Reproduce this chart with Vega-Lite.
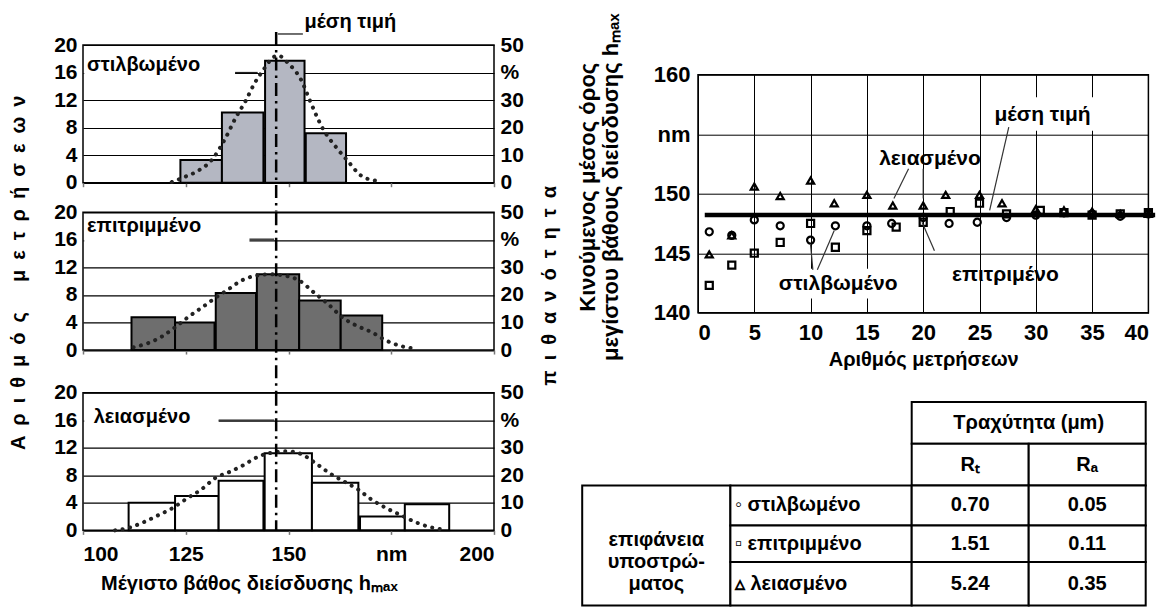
{
"$schema": "https://vega.github.io/schema/vega-lite/v6.json",
"padding": {"left": 0, "top": 0, "right": 0, "bottom": 0},
"background": "white",
"config": {
  "view": {"stroke": null},
  "font": "Liberation Sans",
  "axis": {"labelFont": "Liberation Sans", "titleFont": "Liberation Sans", "labelFontWeight": "bold", "titleFontWeight": "bold", "labelColor": "black", "titleColor": "black"},
  "text": {"font": "Liberation Sans", "fontWeight": "bold", "fontSize": 20, "color": "black"}
},
"spacing": 5,
"hconcat": [
 {
  "bounds": "flush",
  "spacing": 9.667,
  "vconcat": [
   {
    "width": 411, "height": 137.7,
    "view": {"stroke": "black", "strokeWidth": 1.5},
    "resolve": {"axis": {"y": "independent"}},
    "layer": [
     {
      "data": {"values": [{"x":123.7,"x2":133.8,"y":3.3},{"x":133.8,"x2":143.9,"y":10.2},{"x":144.3,"x2":153.9,"y":17.7},{"x":154.2,"x2":164.0,"y":7.2}]},
      "mark": {"type": "rect", "fill": "#b4b7c2", "stroke": "black", "strokeWidth": 2},
      "encoding": {
        "x": {"field": "x", "type": "quantitative", "scale": {"domain": [100, 200], "nice": false, "zero": false},
              "axis": {"values": [100,125,150,175,200], "labels": false, "title": null, "domain": false, "grid": false, "ticks": true, "tickSize": 4, "tickColor": "#777", "tickWidth": 1.5}},
        "x2": {"field": "x2"},
        "y": {"field": "y", "type": "quantitative", "scale": {"domain": [0, 20], "nice": false, "zero": false},
              "axis": {"orient": "left", "values": [0,4,8,12,16,20], "title": null, "grid": true, "gridColor": "black", "gridWidth": 1.2, "gridOpacity": 1, "domain": false, "ticks": false, "labelFontSize": 21, "labelPadding": 6}},
        "y2": {"datum": 0}
      }
     },
     {
      "data": {"values": [{"x":121.6,"y":0.1},{"x":125,"y":0.9},{"x":127.6,"y":1.6},{"x":131.6,"y":3.5},{"x":134.6,"y":6.4},{"x":137.3,"y":9.6},{"x":139.5,"y":11.8},{"x":141.7,"y":14.4},{"x":143.9,"y":16.4},{"x":145.6,"y":17.8},{"x":147.4,"y":18.5},{"x":150.0,"y":17.3},{"x":153.1,"y":14.9},{"x":155.3,"y":11.8},{"x":158.3,"y":7.9},{"x":161.8,"y":5.0},{"x":164.5,"y":3.1},{"x":167.5,"y":1.1},{"x":171.1,"y":0.3}]},
      "mark": {"type": "line", "interpolate": "monotone", "color": "#222", "strokeWidth": 4, "strokeDash": [0.1, 7.5], "strokeCap": "round"},
      "encoding": {
        "x": {"field": "x", "type": "quantitative", "scale": {"domain": [100, 200], "nice": false, "zero": false}},
        "y": {"field": "y", "type": "quantitative", "scale": {"domain": [0, 20], "nice": false, "zero": false}, "axis": null}
      }
     },
     {
      "data": {"values": [{"x":147,"y":21.9,"y2":-4.2}]},
      "mark": {"type": "rule", "color": "black", "strokeWidth": 2.5, "strokeDash": [13, 5, 2.5, 5]},
      "encoding": {
        "x": {"field": "x", "type": "quantitative", "scale": {"domain": [100, 200], "nice": false, "zero": false}},
        "y": {"field": "y", "type": "quantitative", "scale": {"domain": [0, 20], "nice": false, "zero": false}, "axis": null},
        "y2": {"field": "y2"}
      }
     },
     {
      "data": {"values": [{"x":100.3,"x2":137,"y":15.6,"y2":19.4}]},
      "mark": {"type": "rect", "fill": "white"},
      "encoding": {
        "x": {"field": "x", "type": "quantitative", "scale": {"domain": [100, 200], "nice": false, "zero": false}},
        "x2": {"field": "x2"},
        "y": {"field": "y", "type": "quantitative", "scale": {"domain": [0, 20], "nice": false, "zero": false}, "axis": null},
        "y2": {"field": "y2"}
      }
     },
     {
      "data": {"values": [{"x":137,"y":16,"x2":142.5,"y2":16,"o":1},{"x":147.4,"y":21.6,"x2":153.5,"y2":21.6,"o":1},{"x":80.06,"y":26.29,"x2":217,"y2":26.29,"o":0}]},
      "mark": {"type": "rule", "color": "#222", "strokeWidth": 1.3},
      "encoding": {
        "x": {"field": "x", "type": "quantitative", "scale": {"domain": [100, 200], "nice": false, "zero": false}},
        "x2": {"field": "x2"},
        "y": {"field": "y", "type": "quantitative", "scale": {"domain": [0, 20], "nice": false, "zero": false}, "axis": null},
        "y2": {"field": "y2"},
        "opacity": {"field": "o", "type": "quantitative", "scale": null}
      }
     },
     {
      "data": {"values": [{"x":101,"y":17.1,"t":"στιλβωμένο"},{"x":153.9,"y":23.4,"t":"μέση τιμή"}]},
      "mark": {"type": "text", "align": "left", "baseline": "middle", "fontSize": 20},
      "encoding": {
        "x": {"field": "x", "type": "quantitative", "scale": {"domain": [100, 200], "nice": false, "zero": false}},
        "y": {"field": "y", "type": "quantitative", "scale": {"domain": [0, 20], "nice": false, "zero": false}, "axis": null},
        "text": {"field": "t"}
      }
     },
     {
      "data": {"values": [{"y":0}]},
      "mark": {"type": "rule", "opacity": 0},
      "encoding": {
        "y": {"field": "y", "type": "quantitative", "scale": {"domain": [0, 20], "nice": false, "zero": false},
              "axis": {"orient": "right", "values": [0,4,8,12,16,20], "labelExpr": "datum.value == 16 ? '%' : format(datum.value * 2.5, 'd')", "title": null, "grid": false, "domain": false, "ticks": false, "labelFontSize": 21, "labelPadding": 6}}
      }
     }
    ]
   },
   {"data": {"values": [{}]}, "mark": {"type": "point", "opacity": 0}, "width": 1, "height": 9.667},
   {
    "width": 411, "height": 137.7,
    "view": {"stroke": "black", "strokeWidth": 1.5},
    "resolve": {"axis": {"y": "independent"}},
    "layer": [
     {
      "data": {"values": [{"x":111.8,"x2":122.4,"y":4.75},{"x":122.4,"x2":132.0,"y":4.0},{"x":132.3,"x2":142.1,"y":8.3},{"x":142.3,"x2":152.6,"y":11.0},{"x":152.6,"x2":162.7,"y":7.2},{"x":162.7,"x2":172.8,"y":5.0}]},
      "mark": {"type": "rect", "fill": "#6e6e6e", "stroke": "black", "strokeWidth": 2},
      "encoding": {
        "x": {"field": "x", "type": "quantitative", "scale": {"domain": [100, 200], "nice": false, "zero": false},
              "axis": {"values": [100,125,150,175,200], "labels": false, "title": null, "domain": false, "grid": false, "ticks": true, "tickSize": 4, "tickColor": "#777", "tickWidth": 1.5}},
        "x2": {"field": "x2"},
        "y": {"field": "y", "type": "quantitative", "scale": {"domain": [0, 20], "nice": false, "zero": false},
              "axis": {"orient": "left", "values": [0,4,8,12,16,20], "title": "Α\u2002ρ\u2002ι\u2002θ\u2002μ\u2002ό\u2002ς\u2002\u2002\u2002μ\u2002ε\u2002τ\u2002ρ\u2002ή\u2002σ\u2002ε\u2002ω\u2002ν", "titleFontSize": 20, "titleX": -65, "titleY": 60, "titleBaseline": "middle", "titleAlign": "center", "grid": true, "gridColor": "black", "gridWidth": 1.2, "gridOpacity": 1, "domain": false, "ticks": false, "labelFontSize": 21, "labelPadding": 6}},
        "y2": {"datum": 0}
      }
     },
     {
      "data": {"values": [{"x":112.3,"y":0.4},{"x":115.8,"y":1.0},{"x":119.3,"y":2.0},{"x":122.4,"y":3.3},{"x":125.4,"y":4.7},{"x":129.0,"y":6.2},{"x":132.5,"y":7.7},{"x":135.1,"y":8.7},{"x":138.6,"y":10.1},{"x":142.1,"y":10.8},{"x":145.6,"y":11.0},{"x":149.1,"y":10.8},{"x":152.6,"y":10.1},{"x":156.1,"y":8.4},{"x":159.6,"y":6.7},{"x":163.2,"y":4.7},{"x":166.7,"y":3.5},{"x":170.2,"y":2.6},{"x":173.7,"y":1.4},{"x":177.2,"y":0.6},{"x":180.7,"y":0.2}]},
      "mark": {"type": "line", "interpolate": "monotone", "color": "#222", "strokeWidth": 4, "strokeDash": [0.1, 7.5], "strokeCap": "round"},
      "encoding": {
        "x": {"field": "x", "type": "quantitative", "scale": {"domain": [100, 200], "nice": false, "zero": false}},
        "y": {"field": "y", "type": "quantitative", "scale": {"domain": [0, 20], "nice": false, "zero": false}, "axis": null}
      }
     },
     {
      "data": {"values": [{"x":147,"y":20,"y2":-6.15}]},
      "mark": {"type": "rule", "color": "black", "strokeWidth": 2.5, "strokeDash": [13, 5, 2.5, 5]},
      "encoding": {
        "x": {"field": "x", "type": "quantitative", "scale": {"domain": [100, 200], "nice": false, "zero": false}},
        "y": {"field": "y", "type": "quantitative", "scale": {"domain": [0, 20], "nice": false, "zero": false}, "axis": null},
        "y2": {"field": "y2"}
      }
     },
     {
      "data": {"values": [{"x":100.3,"x2":140.5,"y":15.6,"y2":19.6}]},
      "mark": {"type": "rect", "fill": "white"},
      "encoding": {
        "x": {"field": "x", "type": "quantitative", "scale": {"domain": [100, 200], "nice": false, "zero": false}},
        "x2": {"field": "x2"},
        "y": {"field": "y", "type": "quantitative", "scale": {"domain": [0, 20], "nice": false, "zero": false}, "axis": null},
        "y2": {"field": "y2"}
      }
     },
     {
      "data": {"values": [{"x":140.5,"y":16.1,"x2":146.5,"y2":16.1}]},
      "mark": {"type": "rule", "color": "#222", "strokeWidth": 1.3},
      "encoding": {
        "x": {"field": "x", "type": "quantitative", "scale": {"domain": [100, 200], "nice": false, "zero": false}},
        "x2": {"field": "x2"},
        "y": {"field": "y", "type": "quantitative", "scale": {"domain": [0, 20], "nice": false, "zero": false}, "axis": null},
        "y2": {"field": "y2"}
      }
     },
     {
      "data": {"values": [{"x":101,"y":18.0,"t":"επιτριμμένο"}]},
      "mark": {"type": "text", "align": "left", "baseline": "middle", "fontSize": 20},
      "encoding": {
        "x": {"field": "x", "type": "quantitative", "scale": {"domain": [100, 200], "nice": false, "zero": false}},
        "y": {"field": "y", "type": "quantitative", "scale": {"domain": [0, 20], "nice": false, "zero": false}, "axis": null},
        "text": {"field": "t"}
      }
     },
     {
      "data": {"values": [{"y":0}]},
      "mark": {"type": "rule", "opacity": 0},
      "encoding": {
        "y": {"field": "y", "type": "quantitative", "scale": {"domain": [0, 20], "nice": false, "zero": false},
              "axis": {"orient": "right", "values": [0,4,8,12,16,20], "labelExpr": "datum.value == 16 ? '%' : format(datum.value * 2.5, 'd')", "title": "π\u2002ι\u2002θ\u2002α\u2002ν\u2002ό\u2002τ\u2002η\u2002τ\u2002α", "titleFontSize": 20, "titleAngle": 270, "titleX": 55, "titleY": 73, "titleBaseline": "middle", "titleAlign": "center", "grid": false, "domain": false, "ticks": false, "labelFontSize": 21, "labelPadding": 6}}
      }
     }
    ]
   },
   {"data": {"values": [{}]}, "mark": {"type": "point", "opacity": 0}, "width": 1, "height": 23},
   {
    "width": 411, "height": 137.7,
    "view": {"stroke": "black", "strokeWidth": 1.5},
    "resolve": {"axis": {"y": "independent"}},
    "layer": [
     {
      "data": {"values": [{"x":111.1,"x2":122.4,"y":4.0},{"x":122.4,"x2":133.0,"y":5.0},{"x":133.0,"x2":143.9,"y":7.2},{"x":144.2,"x2":155.7,"y":11.2},{"x":155.7,"x2":167.0,"y":6.9},{"x":167.4,"x2":178.3,"y":2.0},{"x":178.3,"x2":189.1,"y":3.8}]},
      "mark": {"type": "rect", "fill": "white", "stroke": "black", "strokeWidth": 2},
      "encoding": {
        "x": {"field": "x", "type": "quantitative", "scale": {"domain": [100, 200], "nice": false, "zero": false},
              "axis": {"values": [100,125,150,175,200], "labelExpr": "datum.value == 175 ? 'nm' : datum.label", "labelFlush": true, "labelFontSize": 21, "labelPadding": 9, "title": "Μέγιστο βάθος διείσδυσης hₘₐₓ", "titleFontSize": 20, "titleX": 166, "titleY": 59, "titleBaseline": "alphabetic", "titleAlign": "center", "domain": false, "grid": false, "ticks": true, "tickSize": 4, "tickColor": "#777", "tickWidth": 1.5}},
        "x2": {"field": "x2"},
        "y": {"field": "y", "type": "quantitative", "scale": {"domain": [0, 20], "nice": false, "zero": false},
              "axis": {"orient": "left", "values": [0,4,8,12,16,20], "title": null, "grid": true, "gridColor": "black", "gridWidth": 1.2, "gridOpacity": 1, "domain": false, "ticks": false, "labelFontSize": 21, "labelPadding": 6}},
        "y2": {"datum": 0}
      }
     },
     {
      "data": {"values": [{"x":107.8,"y":0.0},{"x":111.3,"y":0.4},{"x":114.8,"y":1.2},{"x":118.3,"y":2.2},{"x":121.7,"y":3.2},{"x":125.2,"y":4.6},{"x":128.7,"y":5.9},{"x":132.2,"y":7.6},{"x":135.7,"y":8.5},{"x":139.1,"y":9.5},{"x":142.6,"y":10.7},{"x":146.1,"y":11.3},{"x":149.6,"y":11.5},{"x":153.0,"y":11.1},{"x":156.5,"y":9.8},{"x":160.0,"y":8.3},{"x":163.5,"y":7.1},{"x":167.0,"y":5.9},{"x":170.4,"y":4.4},{"x":173.9,"y":3.2},{"x":177.4,"y":2.2},{"x":180.9,"y":1.2},{"x":184.3,"y":0.5},{"x":187.8,"y":0.1}]},
      "mark": {"type": "line", "interpolate": "monotone", "color": "#222", "strokeWidth": 4, "strokeDash": [0.1, 7.5], "strokeCap": "round"},
      "encoding": {
        "x": {"field": "x", "type": "quantitative", "scale": {"domain": [100, 200], "nice": false, "zero": false}},
        "y": {"field": "y", "type": "quantitative", "scale": {"domain": [0, 20], "nice": false, "zero": false}, "axis": null}
      }
     },
     {
      "data": {"values": [{"x":147,"y":20,"y2":0}]},
      "mark": {"type": "rule", "color": "black", "strokeWidth": 2.5, "strokeDash": [13, 5, 2.5, 5]},
      "encoding": {
        "x": {"field": "x", "type": "quantitative", "scale": {"domain": [100, 200], "nice": false, "zero": false}},
        "y": {"field": "y", "type": "quantitative", "scale": {"domain": [0, 20], "nice": false, "zero": false}, "axis": null},
        "y2": {"field": "y2"}
      }
     },
     {
      "data": {"values": [{"x":100.3,"x2":133,"y":15,"y2":18.2}]},
      "mark": {"type": "rect", "fill": "white"},
      "encoding": {
        "x": {"field": "x", "type": "quantitative", "scale": {"domain": [100, 200], "nice": false, "zero": false}},
        "x2": {"field": "x2"},
        "y": {"field": "y", "type": "quantitative", "scale": {"domain": [0, 20], "nice": false, "zero": false}, "axis": null},
        "y2": {"field": "y2"}
      }
     },
     {
      "data": {"values": [{"x":133,"y":16,"x2":146.5,"y2":16}]},
      "mark": {"type": "rule", "color": "#222", "strokeWidth": 1.3},
      "encoding": {
        "x": {"field": "x", "type": "quantitative", "scale": {"domain": [100, 200], "nice": false, "zero": false}},
        "x2": {"field": "x2"},
        "y": {"field": "y", "type": "quantitative", "scale": {"domain": [0, 20], "nice": false, "zero": false}, "axis": null},
        "y2": {"field": "y2"}
      }
     },
     {
      "data": {"values": [{"x":102.6,"y":16.5,"t":"λειασμένο"}]},
      "mark": {"type": "text", "align": "left", "baseline": "middle", "fontSize": 20},
      "encoding": {
        "x": {"field": "x", "type": "quantitative", "scale": {"domain": [100, 200], "nice": false, "zero": false}},
        "y": {"field": "y", "type": "quantitative", "scale": {"domain": [0, 20], "nice": false, "zero": false}, "axis": null},
        "text": {"field": "t"}
      }
     },
     {
      "data": {"values": [{"y":0}]},
      "mark": {"type": "rule", "opacity": 0},
      "encoding": {
        "y": {"field": "y", "type": "quantitative", "scale": {"domain": [0, 20], "nice": false, "zero": false},
              "axis": {"orient": "right", "values": [0,4,8,12,16,20], "labelExpr": "datum.value == 16 ? '%' : format(datum.value * 2.5, 'd')", "title": null, "grid": false, "domain": false, "ticks": false, "labelFontSize": 21, "labelPadding": 6}}
      }
     }
    ]
   }
  ]
 },
 {
  "bounds": "flush",
  "spacing": 14.7,
  "vconcat": [
   {"data": {"values": [{}]}, "mark": {"type": "point", "opacity": 0}, "width": 1, "height": 14.7},
   {
    "width": 450.4, "height": 238,
    "view": {"stroke": "black", "strokeWidth": 1.5},
    "layer": [
     {
      "data": {"values": [{"x":26.3,"x2":35.2,"y":155.3,"y2":158.1},{"x":6.2,"x2":18.8,"y":141.2,"y2":143.7}]},
      "mark": {"type": "rect", "fill": "white"},
      "encoding": {
        "x": {"field": "x", "type": "quantitative", "scale": {"domain": [0, 40], "nice": false, "zero": false},
              "axis": {"values": [0,5,10,15,20,25,30,35,40], "grid": true, "gridColor": "black", "gridWidth": 1, "gridOpacity": 1, "domain": false, "ticks": false, "labelFontSize": 22, "labelPadding": 10, "title": "Αριθμός μετρήσεων", "titleFontSize": 20, "titleY": 53, "titleBaseline": "alphabetic"}},
        "x2": {"field": "x2"},
        "y": {"field": "y", "type": "quantitative", "scale": {"domain": [140, 160], "nice": false, "zero": false},
              "axis": {"values": [140,145,150,155,160], "labelExpr": "datum.value == 155 ? 'nm' : datum.label", "grid": true, "gridColor": "black", "gridWidth": 1, "gridOpacity": 1, "domain": false, "ticks": false, "labelFontSize": 22, "labelPadding": 8, "title": ["Κινούμενος μέσος όρος", "μεγίστου βάθους διείσδυσης hₘₐₓ"], "titleFontSize": 22, "titleLineHeight": 23, "titleX": -99, "titleY": 112, "titleAlign": "center", "titleBaseline": "bottom"}},
        "y2": {"field": "y2"}
      }
     },
     {
      "data": {"values": [{"x":0.6,"y":148.2},{"x":40.6,"y":148.2}]},
      "mark": {"type": "line", "color": "black", "strokeWidth": 4.5},
      "encoding": {
        "x": {"field": "x", "type": "quantitative", "scale": {"domain": [0, 40], "nice": false, "zero": false}},
        "y": {"field": "y", "type": "quantitative", "scale": {"domain": [140, 160], "nice": false, "zero": false}}
      }
     },
     {
      "data": {"values": [
        {"s":"στιλβωμένο","x":1,"y":146.8},{"s":"στιλβωμένο","x":3,"y":146.5},{"s":"στιλβωμένο","x":5,"y":147.8},{"s":"στιλβωμένο","x":7.3,"y":147.3},{"s":"στιλβωμένο","x":10,"y":146.1},{"s":"στιλβωμένο","x":12.2,"y":147.3},{"s":"στιλβωμένο","x":15,"y":147.3},{"s":"στιλβωμένο","x":17.2,"y":147.5},{"s":"στιλβωμένο","x":20,"y":148.0},{"s":"στιλβωμένο","x":22.3,"y":147.5},{"s":"στιλβωμένο","x":24.8,"y":147.6},{"s":"στιλβωμένο","x":27.4,"y":148.0},{"s":"στιλβωμένο","x":30,"y":148.2},{"s":"στιλβωμένο","x":32.5,"y":148.4},{"s":"στιλβωμένο","x":35,"y":148.3},{"s":"στιλβωμένο","x":37.5,"y":148.1},{"s":"στιλβωμένο","x":40,"y":148.3},
        {"s":"επιτριμμένο","x":1,"y":142.3},{"s":"επιτριμμένο","x":3,"y":144.0},{"s":"επιτριμμένο","x":5,"y":145.0},{"s":"επιτριμμένο","x":7.3,"y":145.9},{"s":"επιτριμμένο","x":10,"y":147.5},{"s":"επιτριμμένο","x":12.2,"y":145.5},{"s":"επιτριμμένο","x":15,"y":146.9},{"s":"επιτριμμένο","x":17.6,"y":147.2},{"s":"επιτριμμένο","x":20,"y":147.6},{"s":"επιτριμμένο","x":22.4,"y":148.5},{"s":"επιτριμμένο","x":25,"y":149.2},{"s":"επιτριμμένο","x":27.4,"y":148.3},{"s":"επιτριμμένο","x":30.4,"y":148.6},{"s":"επιτριμμένο","x":32.5,"y":148.4},{"s":"επιτριμμένο","x":35,"y":148.2},{"s":"επιτριμμένο","x":37.5,"y":148.3},{"s":"επιτριμμένο","x":40,"y":148.4},
        {"s":"λειασμένο","x":1,"y":144.9},{"s":"λειασμένο","x":3,"y":146.5},{"s":"λειασμένο","x":5,"y":150.6},{"s":"λειασμένο","x":7.3,"y":149.8},{"s":"λειασμένο","x":10,"y":151.1},{"s":"λειασμένο","x":12.1,"y":149.2},{"s":"λειασμένο","x":15,"y":149.9},{"s":"λειασμένο","x":17.3,"y":149.0},{"s":"λειασμένο","x":20,"y":149.0},{"s":"λειασμένο","x":22,"y":149.9},{"s":"λειασμένο","x":25,"y":149.9},{"s":"λειασμένο","x":27,"y":149.2},{"s":"λειασμένο","x":30,"y":148.7},{"s":"λειασμένο","x":32.5,"y":148.6},{"s":"λειασμένο","x":35,"y":148.5},{"s":"λειασμένο","x":37.5,"y":148.3},{"s":"λειασμένο","x":40,"y":148.3}
      ]},
      "mark": {"type": "point", "filled": false, "strokeWidth": 2.2, "size": 50, "color": "black", "opacity": 1},
      "encoding": {
        "x": {"field": "x", "type": "quantitative", "scale": {"domain": [0, 40], "nice": false, "zero": false}},
        "y": {"field": "y", "type": "quantitative", "scale": {"domain": [140, 160], "nice": false, "zero": false}},
        "shape": {"field": "s", "type": "nominal", "scale": {"domain": ["στιλβωμένο", "επιτριμμένο", "λειασμένο"], "range": ["circle", "square", "triangle-up"]}, "legend": null}
      }
     },
     {
      "data": {"values": [{"x":27.6,"y":155.6,"x2":25.9,"y2":148.6,"o":1},{"x":18.7,"y":152.1,"x2":17.4,"y2":149.6,"o":1},{"x":20,"y":152.1,"x2":20,"y2":149.6,"o":1},{"x":10.2,"y":143.6,"x2":10,"y2":145.7,"o":1},{"x":10.6,"y":143.6,"x2":12.1,"y2":146.9,"o":1},{"x":21,"y":145.2,"x2":19.9,"y2":147.6,"o":1},{"x":-11.3,"y":166.1,"x2":0,"y2":166.1,"o":0}]},
      "mark": {"type": "rule", "color": "#333", "strokeWidth": 1.2},
      "encoding": {
        "x": {"field": "x", "type": "quantitative", "scale": {"domain": [0, 40], "nice": false, "zero": false}},
        "x2": {"field": "x2"},
        "y": {"field": "y", "type": "quantitative", "scale": {"domain": [140, 160], "nice": false, "zero": false}},
        "y2": {"field": "y2"},
        "opacity": {"field": "o", "type": "quantitative", "scale": null}
      }
     },
     {
      "data": {"values": [{"x":30.6,"y":156.6,"t":"μέση τιμή"},{"x":20.6,"y":152.9,"t":"λειασμένο"},{"x":12.45,"y":142.4,"t":"στιλβωμένο"},{"x":27.3,"y":143.2,"t":"επιτριμένο"}]},
      "mark": {"type": "text", "align": "center", "baseline": "middle", "fontSize": 21},
      "encoding": {
        "x": {"field": "x", "type": "quantitative", "scale": {"domain": [0, 40], "nice": false, "zero": false}},
        "y": {"field": "y", "type": "quantitative", "scale": {"domain": [140, 160], "nice": false, "zero": false}},
        "text": {"field": "t"}
      }
     }
    ]
   },
   {"data": {"values": [{}]}, "mark": {"type": "point", "opacity": 0}, "width": 1, "height": 59.9},
   {
    "width": 450.4, "height": 203.3,
    "layer": [
     {
      "data": {"values": [{"c0":2,"c1":4,"r0":0,"r1":1},{"c0":2,"c1":3,"r0":1,"r1":2},{"c0":3,"c1":4,"r0":1,"r1":2},{"c0":0,"c1":1,"r0":2,"r1":5},{"c0":1,"c1":2,"r0":2,"r1":3},{"c0":1,"c1":2,"r0":3,"r1":4},{"c0":1,"c1":2,"r0":4,"r1":5},{"c0":2,"c1":3,"r0":2,"r1":3},{"c0":3,"c1":4,"r0":2,"r1":3},{"c0":2,"c1":3,"r0":3,"r1":4},{"c0":3,"c1":4,"r0":3,"r1":4},{"c0":2,"c1":3,"r0":4,"r1":5},{"c0":3,"c1":4,"r0":4,"r1":5}]},
      "mark": {"type": "rect", "fill": "white", "stroke": "black", "strokeWidth": 2},
      "encoding": {
        "x": {"field": "c0", "type": "quantitative", "scale": {"domain": [0,1,2,3,4], "range": [-115.8,32.4,213.7,330.7,447.7], "nice": false, "zero": false}, "axis": null},
        "x2": {"field": "c1"},
        "y": {"field": "r0", "type": "quantitative", "scale": {"domain": [0,1,2,3,4,5], "range": [0,41.7,83.3,123.3,160,203.3], "nice": false, "zero": false}, "axis": null},
        "y2": {"field": "r1"}
      }
     },
     {
      "data": {"values": [{"c":3,"r":0.5,"t":"Τραχύτητα (μm)"},{"c":2.5,"r":1.5,"t":"Rₜ"},{"c":3.5,"r":1.5,"t":"Rₐ"},{"c":0.5,"r":3.4,"t":"επιφάνεια\nυποστρώ-\nματος"},{"c":2.5,"r":2.5,"t":"0.70"},{"c":3.5,"r":2.5,"t":"0.05"},{"c":2.5,"r":3.5,"t":"1.51"},{"c":3.5,"r":3.5,"t":"0.11"},{"c":2.5,"r":4.5,"t":"5.24"},{"c":3.5,"r":4.5,"t":"0.35"}]},
      "mark": {"type": "text", "align": "center", "baseline": "middle", "fontSize": 20, "lineBreak": "\n", "lineHeight": 22},
      "encoding": {
        "x": {"field": "c", "type": "quantitative", "scale": {"domain": [0,1,2,3,4], "range": [-115.8,32.4,213.7,330.7,447.7], "nice": false, "zero": false}, "axis": null},
        "y": {"field": "r", "type": "quantitative", "scale": {"domain": [0,1,2,3,4,5], "range": [0,41.7,83.3,123.3,160,203.3], "nice": false, "zero": false}, "axis": null},
        "text": {"field": "t"}
      }
     },
     {
      "data": {"values": [{"c":1.025,"r":2.5,"t":"◦ στιλβωμένο"},{"c":1.025,"r":3.5,"t":"▫ επιτριμμένο"},{"c":1.025,"r":4.5,"t":"▵  λειασμένο"}]},
      "mark": {"type": "text", "align": "left", "baseline": "middle", "fontSize": 20},
      "encoding": {
        "x": {"field": "c", "type": "quantitative", "scale": {"domain": [0,1,2,3,4], "range": [-115.8,32.4,213.7,330.7,447.7], "nice": false, "zero": false}, "axis": null},
        "y": {"field": "r", "type": "quantitative", "scale": {"domain": [0,1,2,3,4,5], "range": [0,41.7,83.3,123.3,160,203.3], "nice": false, "zero": false}, "axis": null},
        "text": {"field": "t"}
      }
     }
    ]
   }
  ]
 }
]
}
